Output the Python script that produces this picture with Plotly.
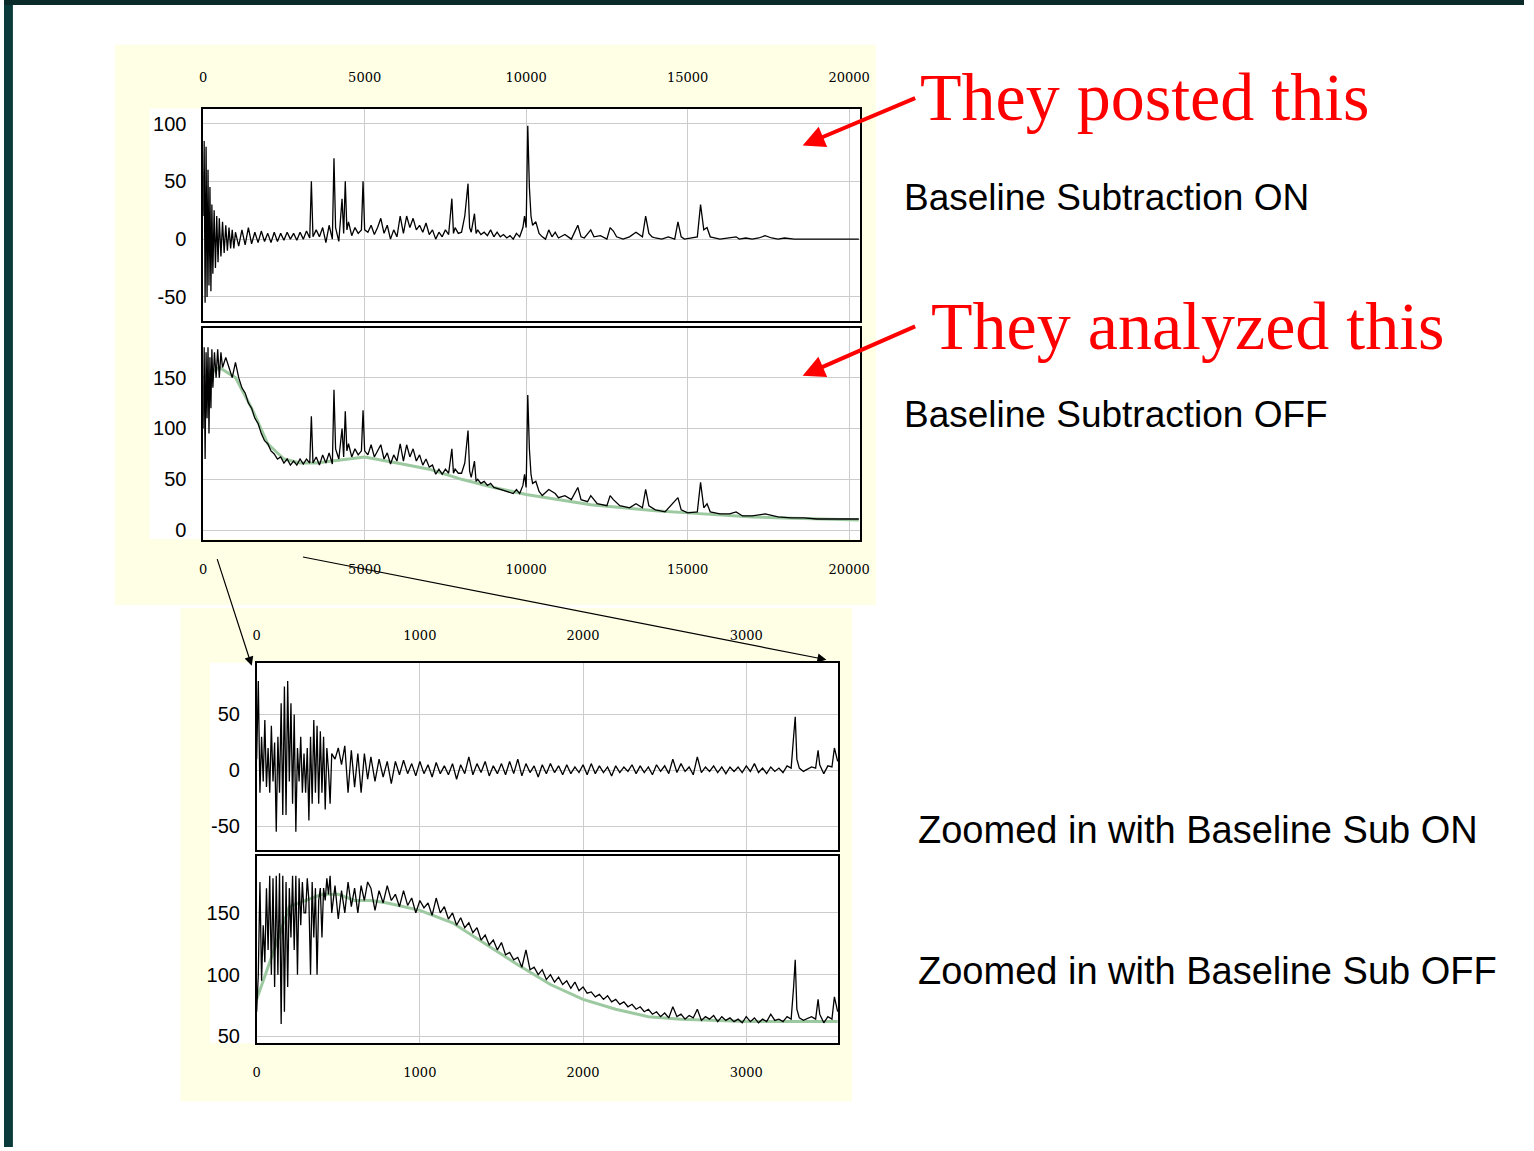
import plotly.graph_objects as go

W, H = 1534, 1151

# ---- Panel 1: full spectrum, baseline subtraction ON
on_x = [0,30,60,90,120,150,180,210,240,270,300,340,380,420,460,500,550,600,650,700,750,800,850,900,950,1000,
        1100,1200,1300,1400,1500,1600,1700,1800,1900,2000,2100,2200,2300,2400,2500,2600,2700,2800,2900,3000,3100,3200,3300,3350,3400,3500,3600,3700,3800,3900,4000,4050,4100,4200,4300,4350,4400,4450,4500,4600,4700,4800,4900,4950,5000,5100,5200,5300,5400,5500,5600,5700,5800,5900,6000,6100,6200,6300,6400,6500,6600,6700,6800,6900,7000,7100,7200,7300,7400,7500,7600,7700,7750,7800,7900,8000,8100,8200,8250,8300,8400,8450,8500,8600,8700,8800,8900,9000,9100,9200,9300,9400,9500,9600,9700,9800,9900,9950,10000,10050,10100,10150,10200,10300,10400,10500,10600,10700,10800,10900,11000,11200,11400,11600,11700,11800,12000,12100,12300,12500,12600,12700,12800,13000,13200,13400,13600,13700,13800,13900,14000,14200,14400,14600,14700,14800,14900,15100,15300,15400,15500,15600,15700,16000,16300,16500,16600,16800,17000,17200,17400,17600,17800,18000,18300,20300]
on_y = [20,85,-55,80,-50,60,-40,45,-45,30,-30,25,-25,20,-20,18,-15,15,-12,12,-10,10,-8,8,-8,6,
        -6,8,-5,10,-4,6,-3,7,-2,5,-3,6,-2,5,-1,6,0,5,-1,6,0,7,1,50,2,8,2,10,-3,12,0,70,10,-2,35,5,50,8,15,3,10,5,8,50,8,6,12,4,10,18,5,12,0,8,2,20,5,20,10,18,8,12,6,14,4,8,0,6,2,8,4,35,5,10,5,6,20,48,10,6,22,5,8,4,6,3,8,2,6,2,4,1,3,0,5,2,10,20,10,98,45,20,12,15,5,2,0,8,2,6,1,4,0,12,2,1,8,2,3,0,10,7,2,0,2,6,2,20,5,2,1,0,2,0,15,2,0,1,2,30,8,10,2,0,1,2,0,1,0,1,3,1,0,1,0,0]

# ---- Panel 2: full spectrum, baseline subtraction OFF
off_x = [0,30,60,90,120,150,180,210,240,270,300,350,400,450,500,550,600,700,800,900,1000,1100,1200,1300,1400,1500,1600,1700,1800,1900,2000,2100,2200,2300,2400,2500,2600,2700,2800,2900,3000,3100,3200,3300,3350,3400,3500,3600,3700,3800,3900,4000,4050,4100,4200,4300,4350,4400,4450,4500,4600,4700,4800,4900,4950,5000,5100,5200,5300,5400,5500,5600,5700,5800,5900,6000,6100,6200,6300,6400,6500,6600,6700,6800,6900,7000,7100,7200,7300,7400,7500,7600,7700,7750,7800,7900,8000,8100,8200,8250,8300,8400,8450,8500,8600,8700,8800,8900,9000,9200,9400,9600,9700,9800,9900,9950,10000,10050,10100,10150,10200,10300,10400,10500,10700,10900,11000,11200,11400,11600,11700,11900,12000,12200,12500,12600,12700,12900,13200,13400,13600,13700,13800,14000,14300,14700,14800,15000,15300,15400,15500,15600,15700,16000,16300,16500,16700,17000,17400,17800,18200,18600,19000,19600,20300]
off_y = [100,180,70,175,110,180,95,170,120,178,140,175,150,178,150,175,160,170,160,150,165,150,140,135,125,120,110,105,95,88,85,78,75,70,72,66,70,64,68,64,70,65,70,66,112,66,72,64,74,66,76,65,138,80,70,100,72,117,78,85,72,80,74,78,118,78,74,84,72,78,84,70,76,65,74,68,85,68,84,72,80,68,74,64,70,62,64,55,60,55,60,56,80,56,60,56,56,66,98,58,52,68,48,50,46,48,44,46,42,40,38,36,40,36,44,55,42,133,80,55,46,48,38,34,40,36,32,34,30,42,30,28,34,26,24,34,30,24,22,26,22,40,24,20,18,32,20,17,18,47,22,26,18,16,16,18,14,14,16,13,12,12,11,11,11]
base_x = [0,500,1000,1500,2000,2500,3000,3500,4000,5000,6000,7000,8000,9000,10000,11000,12000,13000,14000,15000,16000,17000,18000,19000,20300]
base_y = [150,160,150,120,85,70,66,66,68,72,66,60,50,42,35,30,25,22,19,17,15,13,12,11,10]

# ---- Zoomed panels: sample positions 0-3560
z_head_x = [0,10,20,30,40,50,60,70,80,90,100,110,120,130,140,150,160,170,180,190,200,210,220,230,240,250,260,270,280,290,300,310,320,330,340,350,360,370,380,390,400,410,420,430,440,450,460,480,500,520,540,560,580,600,620,640,660,680,700]
z_mid_x = list(range(725, 3276, 25))
z_tail_x = [3290,3300,3310,3325,3350,3400,3425,3440,3450,3475,3500,3525,3540,3560]

# ---- Panel 3: zoom, ON
zon_head = [10,80,-20,30,-10,45,-15,20,-20,40,-10,25,-55,30,-20,60,-40,75,-40,80,-10,60,-30,50,-55,20,-10,30,-20,15,-20,20,-45,30,-30,45,-20,40,-30,35,-20,30,-35,20,0,-30,15,10,20,5,22,-20,18,-15,15,-20,15,-8,12]
zon_mid = [-10,10,-6,8,-12,8,-4,9,
           -3,6,-5,8,-3,5,-6,7,
           -3,4,-4,6,-8,5,-3,12,
           -4,6,-2,8,-5,4,-3,6,
           -4,8,-3,10,-5,6,-2,4,
           -6,5,-3,6,-2,4,-4,5,
           -3,3,-2,5,-4,6,-3,4,
           -2,3,-5,4,-2,3,-1,5,
           -3,4,-2,3,-4,5,-1,4,
           -3,10,-2,6,-1,3,-4,12,
           -2,3,-1,4,-2,3,-3,3,
           -1,3,-2,4,-1,6,-2,2,
           -3,3,-1,2,-2,4,2]
zon_tail = [30,48,10,2,-1,3,2,18,5,-3,4,3,20,8]

# ---- Panel 4: zoom, OFF
zoff_head = [70,100,175,95,140,110,170,120,180,100,178,90,180,100,182,60,180,70,175,90,170,130,180,120,180,100,178,140,175,150,150,178,160,100,175,130,170,100,160,170,130,170,160,178,165,180,150,172,145,168,150,175,155,170,150,172,160,175,170]
zoff_mid = [152,168,158,172,160,165,155,168,
            156,162,150,160,154,158,148,162,
            150,155,145,150,140,146,138,142,
            134,138,128,132,124,128,120,126,
            116,118,112,114,106,120,104,106,
            100,104,96,100,94,98,92,95,
            89,94,87,90,85,86,82,84,
            80,83,78,80,76,78,74,76,
            72,74,70,72,68,70,66,69,
            65,74,66,68,64,67,65,72,
            63,66,64,67,62,66,63,65,
            62,64,61,66,62,65,61,64,
            62,68,63,64,62,66,64]
zoff_tail = [90,112,72,65,63,66,64,80,68,61,66,64,82,70]
zbase_x = [0,200,400,500,600,700,800,1000,1200,1400,1600,1800,2000,2200,2400,2600,2800,3000,3200,3400,3560]
zbase_y = [80,155,165,165,160,160,158,152,142,125,108,92,80,72,66,64,63,62,62,62,62]

zx = z_head_x + z_mid_x + z_tail_x
zon_y = zon_head + zon_mid + zon_tail
zoff_y = zoff_head + zoff_mid + zoff_tail

def px(x): return x / W
def py(y): return 1 - y / H

fig = go.Figure()
GREEN = "#9cc9a0"
panels = [
    ("x", "y", on_x, on_y, None, None, (201, 864), (109, 322), [0, 20340], [-70.7, 112.9], [0,5000,10000,15000,20000], [-50,0,50,100], "top", 20),
    ("x2", "y2", off_x, off_y, base_x, base_y, (201, 864), (329, 542), [0, 20340], [-9.8, 199], [0,5000,10000,15000,20000], [0,50,100,150], "bottom", 17),
    ("x3", "y3", zx, zon_y, None, None, (255, 842), (665, 853), [0, 3564], [-71.4, 96.4], [0,1000,2000,3000], [-50,0,50], "top", 16),
    ("x4", "y4", zx, zoff_y, zbase_x, zbase_y, (255, 842), (859, 1047), [0, 3564], [44.4, 196], [0,1000,2000,3000], [50,100,150], "bottom", 16),
]

shapes = [
    dict(type="rect", xref="paper", yref="paper", x0=0, x1=px(9), y0=0, y1=1, fillcolor="#0b3a3a", line_width=0, layer="below"),
    dict(type="rect", xref="paper", yref="paper", x0=0, x1=1, y0=py(5), y1=1, fillcolor="#0b2a2a", line_width=0, layer="below"),
    dict(type="rect", xref="paper", yref="paper", x0=px(112), x1=px(880), y0=py(607), y1=py(45), fillcolor="#ffffe6", line_width=0, layer="below"),
    dict(type="rect", xref="paper", yref="paper", x0=px(178), x1=px(856), y0=py(1105), y1=py(610), fillcolor="#ffffe6", line_width=0, layer="below"),
    dict(type="rect", xref="paper", yref="paper", x0=px(147), x1=px(864), y0=py(541), y1=py(109), fillcolor="white", line_width=0, layer="below"),
    dict(type="rect", xref="paper", yref="paper", x0=px(208), x1=px(842), y0=py(1047), y1=py(665), fillcolor="white", line_width=0, layer="below"),
]

layout = {}
for i, (xa, ya, xs, ys, bx, by, xd, yd, xr, yr, xt, yt, side, so) in enumerate(panels):
    if bx is not None:
        fig.add_trace(go.Scatter(x=bx, y=by, xaxis=xa, yaxis=ya, mode="lines",
                                 line=dict(color=GREEN, width=3), hoverinfo="skip"))
    fig.add_trace(go.Scatter(x=xs, y=ys, xaxis=xa, yaxis=ya, mode="lines",
                             line=dict(color="black", width=1.3)))
    xk = "xaxis" + ("" if i == 0 else str(i + 1))
    yk = "yaxis" + ("" if i == 0 else str(i + 1))
    layout[xk] = dict(domain=[px(xd[0]), px(xd[1])], range=xr, tickvals=xt,
                      ticktext=[str(v) for v in xt], side=side,
                      anchor=ya, showgrid=True, gridcolor="#cccccc", zeroline=False,
                      showline=True, linecolor="black", linewidth=1.5, mirror=True,
                      ticks="", ticklabelstandoff=so,
                      tickfont=dict(family="DejaVu Serif", size=13, color="black"))
    layout[yk] = dict(domain=[py(yd[1]), py(yd[0])], range=yr, tickvals=yt,
                      ticktext=[str(v) for v in yt],
                      anchor=xa, showgrid=True, gridcolor="#cccccc", zeroline=False,
                      showline=True, linecolor="black", linewidth=1.5, mirror=True,
                      ticks="", ticklabelstandoff=11,
                      tickfont=dict(family="Liberation Sans", size=20, color="black"))

red_font = dict(family="Liberation Serif", size=68, color="#ff0000")
txt_font = dict(family="Liberation Sans", size=37, color="black")
zt_font = dict(family="Liberation Sans", size=38, color="black")
annotations = [
    dict(x=px(922), y=py(97), text="They posted this", font=red_font),
    dict(x=px(934), y=py(327), text="They analyzed this", font=red_font),
    dict(x=px(906), y=py(198), text="Baseline Subtraction ON", font=txt_font),
    dict(x=px(906), y=py(416), text="Baseline Subtraction OFF", font=txt_font),
    dict(x=px(920), y=py(833), text="Zoomed in with Baseline Sub ON", font=zt_font),
    dict(x=px(920), y=py(974), text="Zoomed in with Baseline Sub OFF", font=zt_font),
]
for a in annotations:
    a.update(xref="paper", yref="paper", xanchor="left", yanchor="middle", showarrow=False)

arrows = [
    ((920, 98), (806, 146), "#ff0000", 4, 1.1),
    ((920, 327), (806, 377), "#ff0000", 4, 1.1),
    ((215, 560), (250, 668), "black", 1.2, 1.5),
    ((305, 559), (830, 662), "black", 1.2, 1.5),
]
for (x0, y0), (x1, y1), c, w, s in arrows:
    annotations.append(dict(xref="paper", yref="paper", axref="pixel", ayref="pixel",
                            x=px(x1), y=py(y1), ax=x0 - x1, ay=y0 - y1, text="",
                            showarrow=True, arrowhead=2, arrowsize=s, arrowwidth=w, arrowcolor=c))

fig.update_layout(width=W, height=H, margin=dict(l=0, r=0, t=0, b=0),
                  paper_bgcolor="white", plot_bgcolor="white", showlegend=False,
                  shapes=shapes, annotations=annotations, **layout)
fig.write_html("out.html", config={"displayModeBar": False},
               post_script="document.body.style.margin='0';document.body.style.overflow='hidden';")
